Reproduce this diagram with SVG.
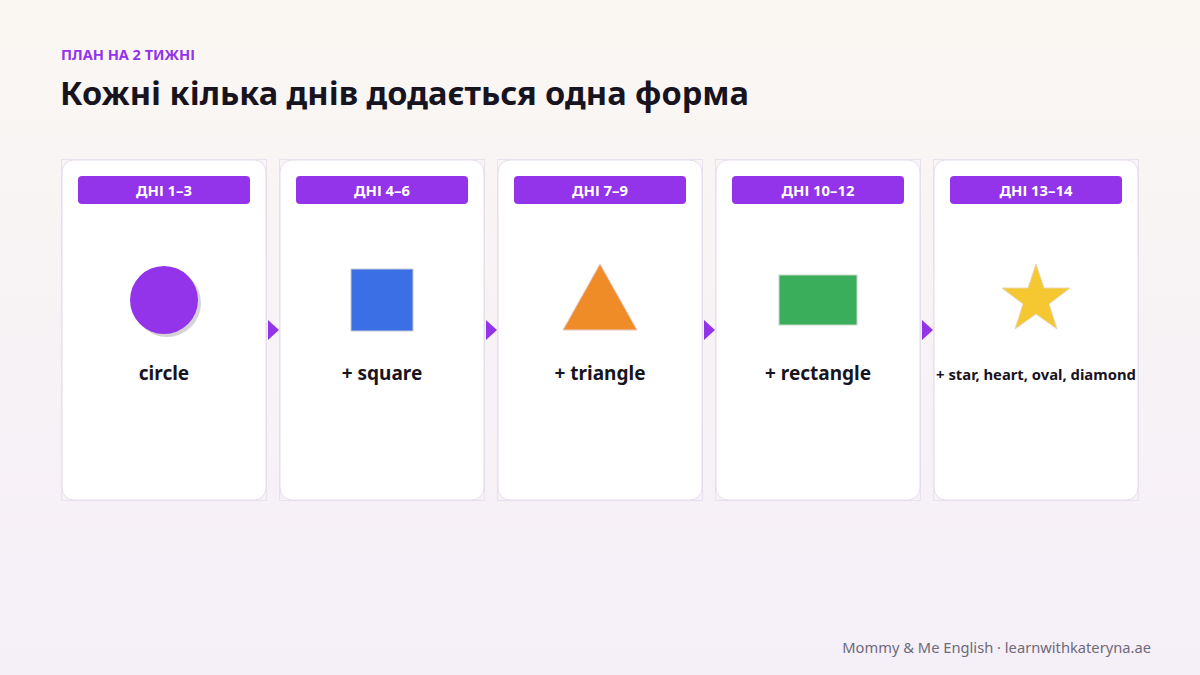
<svg xmlns="http://www.w3.org/2000/svg" width="1200" height="675" viewBox="0 0 1200 675">
<defs>
<linearGradient id="bg" x1="0" y1="0" x2="0" y2="1">
<stop offset="0" stop-color="#faf7f3"/>
<stop offset="1" stop-color="#f5eff8"/>
</linearGradient>
<style>
.frame{fill:none;stroke:#e9e1ee;stroke-width:1}
.card{fill:#ffffff;stroke:#e6dcec;stroke-width:1}
.badge{fill:#9333ea}
.btxt{font-family:"Noto Sans","Open Sans",sans-serif;font-weight:700;font-size:14.8px;fill:#ffffff;text-anchor:middle}
.lbl{font-family:"Noto Sans","Open Sans",sans-serif;font-weight:700;font-size:19px;fill:#18141f;text-anchor:middle}
.arrow{fill:#9333ea}
</style>
</defs>
<rect width="1200" height="675" fill="url(#bg)"/>
<text x="61" y="60" font-family="Noto Sans, Open Sans, sans-serif" font-weight="700" font-size="14.5" fill="#9333ea">ПЛАН НА 2 ТИЖНІ</text>
<text x="60" y="105" font-family="Noto Sans, Open Sans, sans-serif" font-weight="700" font-size="32.6" fill="#18141f">Кожні кілька днів додається одна форма</text>

<g id="card1">
<rect class="frame" x="61.5" y="159.5" width="205" height="341"/>
<rect class="card" x="62" y="160" width="204" height="340" rx="12"/>
<rect class="badge" x="78" y="176" width="172" height="28" rx="4"/>
<text class="btxt" x="164" y="195.5">ДНІ 1–3</text>
<circle cx="167" cy="303" r="34" fill="#d6d3d8"/>
<circle cx="164" cy="300" r="34" fill="#9333ea"/>
<text class="lbl" x="164" y="380">circle</text>
</g>
<g id="card2">
<rect class="frame" x="279.5" y="159.5" width="205" height="341"/>
<rect class="card" x="280" y="160" width="204" height="340" rx="12"/>
<rect class="badge" x="296" y="176" width="172" height="28" rx="4"/>
<text class="btxt" x="382" y="195.5">ДНІ 4–6</text>
<rect x="351" y="269" width="62" height="62" fill="#3b6fe6" stroke="#c9c9d6" stroke-width="1"/>
<text class="lbl" x="382" y="380">+ square</text>
</g>
<g id="card3">
<rect class="frame" x="497.5" y="159.5" width="205" height="341"/>
<rect class="card" x="498" y="160" width="204" height="340" rx="12"/>
<rect class="badge" x="514" y="176" width="172" height="28" rx="4"/>
<text class="btxt" x="600" y="195.5">ДНІ 7–9</text>
<polygon points="600,264 637,330 563,330" fill="#f08c28" stroke="#e8c8c8" stroke-width="1"/>
<text class="lbl" x="600" y="380">+ triangle</text>
</g>
<g id="card4">
<rect class="frame" x="715.5" y="159.5" width="205" height="341"/>
<rect class="card" x="716" y="160" width="204" height="340" rx="12"/>
<rect class="badge" x="732" y="176" width="172" height="28" rx="4"/>
<text class="btxt" x="818" y="195.5">ДНІ 10–12</text>
<rect x="779" y="275" width="78" height="50" fill="#3aae5a" stroke="#c9d6cc" stroke-width="1"/>
<text class="lbl" x="818" y="380">+ rectangle</text>
</g>
<g id="card5">
<rect class="frame" x="933.5" y="159.5" width="205" height="341"/>
<rect class="card" x="934" y="160" width="204" height="340" rx="12"/>
<rect class="badge" x="950" y="176" width="172" height="28" rx="4"/>
<text class="btxt" x="1036" y="195.5">ДНІ 13–14</text>
<polygon points="1036,264 1044,288 1070,288 1049,304 1057,329 1036,314 1015,329 1023,304 1002,288 1028,288" fill="#f5c731" stroke="#e6d6b8" stroke-width="1"/>
<text class="lbl" x="1036" y="380" style="font-size:14.8px">+ star, heart, oval, diamond</text>
</g>

<g id="connectors">
<polygon class="arrow" points="268,320 279,330 268,340"/>
<polygon class="arrow" points="486,320 497,330 486,340"/>
<polygon class="arrow" points="704,320 715,330 704,340"/>
<polygon class="arrow" points="922,320 933,330 922,340"/>
</g>

<text x="1151" y="653" text-anchor="end" font-family="Noto Sans, Open Sans, sans-serif" font-size="14.7" fill="#6e6a78">Mommy &amp; Me English · learnwithkateryna.ae</text>
</svg>
